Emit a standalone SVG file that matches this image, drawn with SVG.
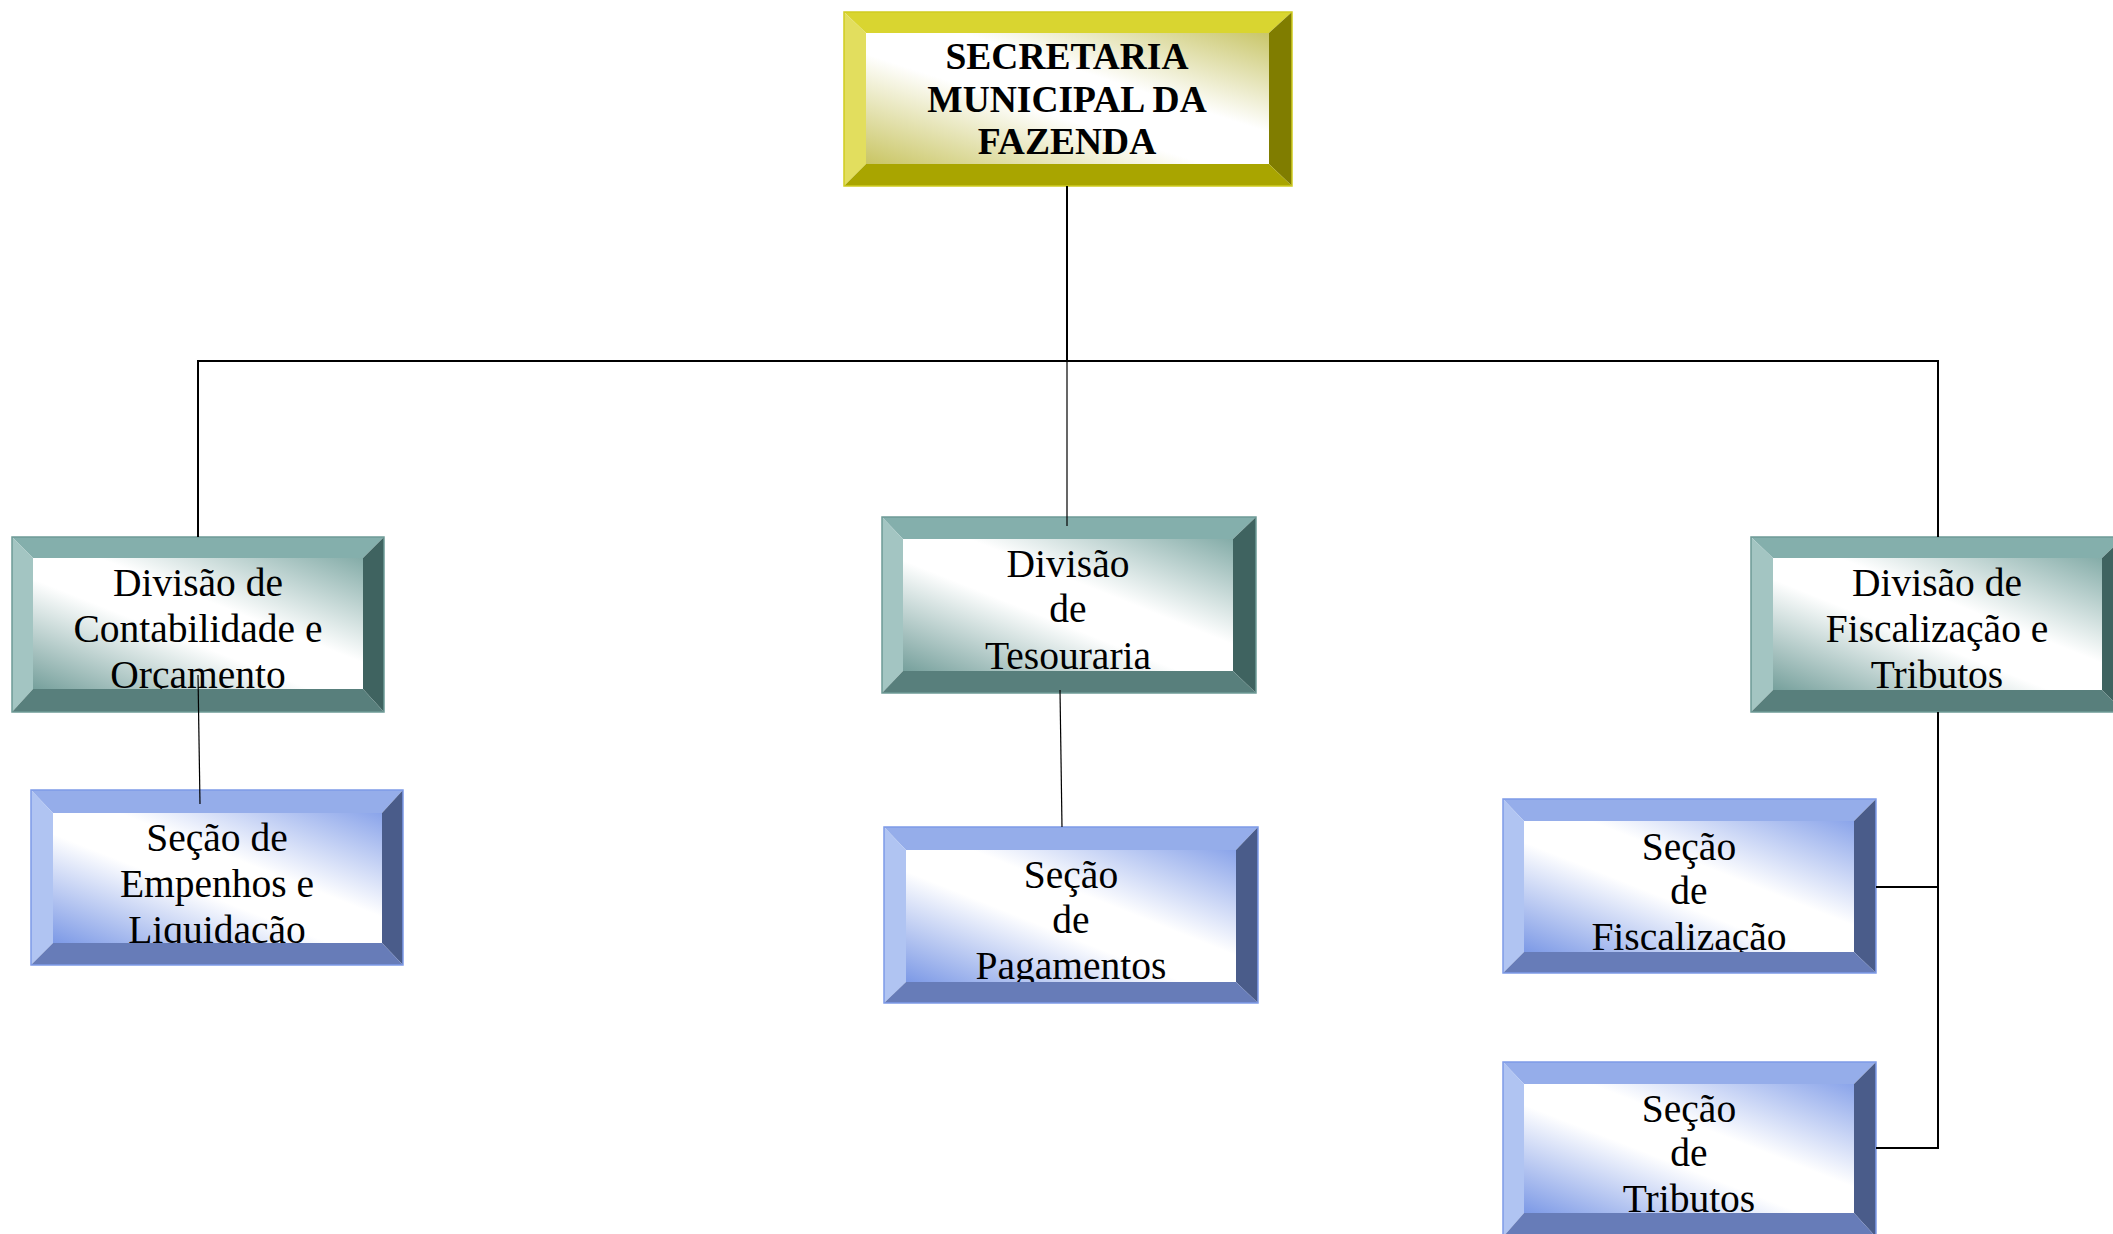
<svg xmlns="http://www.w3.org/2000/svg" width="2113" height="1234" viewBox="0 0 2113 1234">
<defs>
<linearGradient id="gY" x1="0" y1="1" x2="1" y2="0">
<stop offset="0" stop-color="#C9C563"/><stop offset="0.42" stop-color="#FFFFFF"/><stop offset="0.62" stop-color="#FFFFFF"/><stop offset="1" stop-color="#C9C66A"/>
</linearGradient>
<linearGradient id="gT" x1="0" y1="1" x2="1" y2="0">
<stop offset="0" stop-color="#76A09C"/><stop offset="0.42" stop-color="#FFFFFF"/><stop offset="0.6" stop-color="#FFFFFF"/><stop offset="1" stop-color="#84ACA8"/>
</linearGradient>
<linearGradient id="gB" x1="0" y1="1" x2="1" y2="0">
<stop offset="0" stop-color="#7C99E6"/><stop offset="0.42" stop-color="#FFFFFF"/><stop offset="0.6" stop-color="#FFFFFF"/><stop offset="1" stop-color="#8AA4EA"/>
</linearGradient>
</defs>
<style>
text{font-family:"Liberation Serif","Times New Roman",serif;fill:#000;text-anchor:middle}
.r{font-size:39.5px}
.b{font-size:37.5px;font-weight:bold}
.yT{fill:#D9D530}.yL{fill:#E2DE5E}.yR{fill:#807D00}.yB{fill:#A9A500}
.tT{fill:#84AFAC}.tL{fill:#A3C5C2}.tR{fill:#3F6360}.tB{fill:#587F7C}
.bT{fill:#95ADEA}.bL{fill:#B0C4F2}.bR{fill:#4A5C8A}.bB{fill:#677CB8}
.edY{fill:none;stroke:#CFCB20;stroke-width:1.5}
.edT{fill:none;stroke:#6E9A96;stroke-width:1.5}
.edB{fill:none;stroke:#7E9BE8;stroke-width:1.5}
.thick{stroke:#000;stroke-width:2;fill:none}
.thin{stroke:#000;stroke-width:1.2;fill:none}
</style>
<rect width="2113" height="1234" fill="#FFFFFF"/>

<g id="secretaria">
<rect x="866" y="33" width="403" height="131" fill="url(#gY)"/>
<text class="b" x="1067" y="69">SECRETARIA</text>
<text class="b" x="1067" y="112">MUNICIPAL DA</text>
<text class="b" x="1067" y="154">FAZENDA</text>
<polygon class="yT" points="844,12 1292,12 1269,33 866,33"/>
<polygon class="yL" points="844,12 866,33 866,164 844,186"/>
<polygon class="yR" points="1292,12 1292,186 1269,164 1269,33"/>
<polygon class="yB" points="844,186 866,164 1269,164 1292,186"/>
<rect class="edY" x="844" y="12" width="448" height="174"/>
</g>

<g id="div-contabilidade">
<rect x="33" y="558" width="330" height="131" fill="url(#gT)"/>
<text class="r" x="198" y="596">Divisão de</text>
<text class="r" x="198" y="642">Contabilidade e</text>
<text class="r" x="198" y="688">Orçamento</text>
<polygon class="tT" points="12,537 384,537 363,558 33,558"/>
<polygon class="tL" points="12,537 33,558 33,689 12,712"/>
<polygon class="tR" points="384,537 384,712 363,689 363,558"/>
<polygon class="tB" points="12,712 33,689 363,689 384,712"/>
<rect class="edT" x="12" y="537" width="372" height="175"/>
</g>

<g id="div-tesouraria">
<rect x="903" y="539" width="330" height="132" fill="url(#gT)"/>
<text class="r" x="1068" y="577">Divisão</text>
<text class="r" x="1068" y="622">de</text>
<text class="r" x="1068" y="669">Tesouraria</text>
<polygon class="tT" points="882,517 1256,517 1233,539 903,539"/>
<polygon class="tL" points="882,517 903,539 903,671 882,693"/>
<polygon class="tR" points="1256,517 1256,693 1233,671 1233,539"/>
<polygon class="tB" points="882,693 903,671 1233,671 1256,693"/>
<rect class="edT" x="882" y="517" width="374" height="176"/>
</g>

<g id="div-fiscalizacao">
<rect x="1773" y="558" width="330" height="132" fill="url(#gT)"/>
<text class="r" x="1937" y="596">Divisão de</text>
<text class="r" x="1937" y="642">Fiscalização e</text>
<text class="r" x="1937" y="688">Tributos</text>
<polygon class="tT" points="1751,537 2124,537 2102,558 1773,558"/>
<polygon class="tL" points="1751,537 1773,558 1773,690 1751,712"/>
<polygon class="tR" points="2124,537 2124,712 2102,690 2102,558"/>
<polygon class="tB" points="1751,712 1773,690 2102,690 2124,712"/>
<rect class="edT" x="1751" y="537" width="373" height="175"/>
</g>

<g id="sec-empenhos">
<rect x="53" y="813" width="329" height="130" fill="url(#gB)"/>
<text class="r" x="217" y="851">Seção de</text>
<text class="r" x="217" y="897">Empenhos e</text>
<text class="r" x="217" y="943">Liquidação</text>
<polygon class="bT" points="31,790 403,790 382,813 53,813"/>
<polygon class="bL" points="31,790 53,813 53,943 31,965"/>
<polygon class="bR" points="403,790 403,965 382,943 382,813"/>
<polygon class="bB" points="31,965 53,943 382,943 403,965"/>
<rect class="edB" x="31" y="790" width="372" height="175"/>
</g>

<g id="sec-pagamentos">
<rect x="906" y="850" width="330" height="132" fill="url(#gB)"/>
<text class="r" x="1071" y="888">Seção</text>
<text class="r" x="1071" y="933">de</text>
<text class="r" x="1071" y="979">Pagamentos</text>
<polygon class="bT" points="884,827 1258,827 1236,850 906,850"/>
<polygon class="bL" points="884,827 906,850 906,982 884,1003"/>
<polygon class="bR" points="1258,827 1258,1003 1236,982 1236,850"/>
<polygon class="bB" points="884,1003 906,982 1236,982 1258,1003"/>
<rect class="edB" x="884" y="827" width="374" height="176"/>
</g>

<g id="sec-fiscalizacao">
<rect x="1524" y="821" width="330" height="131" fill="url(#gB)"/>
<text class="r" x="1689" y="860">Seção</text>
<text class="r" x="1689" y="904">de</text>
<text class="r" x="1689" y="950">Fiscalização</text>
<polygon class="bT" points="1503,799 1876,799 1854,821 1524,821"/>
<polygon class="bL" points="1503,799 1524,821 1524,952 1503,973"/>
<polygon class="bR" points="1876,799 1876,973 1854,952 1854,821"/>
<polygon class="bB" points="1503,973 1524,952 1854,952 1876,973"/>
<rect class="edB" x="1503" y="799" width="373" height="174"/>
</g>

<g id="sec-tributos">
<rect x="1524" y="1084" width="330" height="129" fill="url(#gB)"/>
<text class="r" x="1689" y="1122">Seção</text>
<text class="r" x="1689" y="1166">de</text>
<text class="r" x="1689" y="1212">Tributos</text>
<polygon class="bT" points="1503,1062 1876,1062 1854,1084 1524,1084"/>
<polygon class="bL" points="1503,1062 1524,1084 1524,1213 1503,1237"/>
<polygon class="bR" points="1876,1062 1876,1237 1854,1213 1854,1084"/>
<polygon class="bB" points="1503,1237 1524,1213 1854,1213 1876,1237"/>
<rect class="edB" x="1503" y="1062" width="373" height="175"/>
</g>

<g id="connectors">
<line class="thick" x1="1067" y1="186" x2="1067" y2="361"/>
<line class="thick" x1="197" y1="361" x2="1939" y2="361"/>
<line class="thick" x1="198" y1="361" x2="198" y2="537"/>
<line class="thick" x1="1938" y1="361" x2="1938" y2="537"/>
<line class="thin" x1="1067" y1="361" x2="1067" y2="526"/>
<line class="thin" x1="198" y1="675" x2="200" y2="804"/>
<line class="thin" x1="1060" y1="690" x2="1062" y2="827"/>
<polyline class="thick" points="1938,712 1938,1148 1876,1148"/>
<line class="thick" x1="1876" y1="887" x2="1938" y2="887"/>
</g>
</svg>
